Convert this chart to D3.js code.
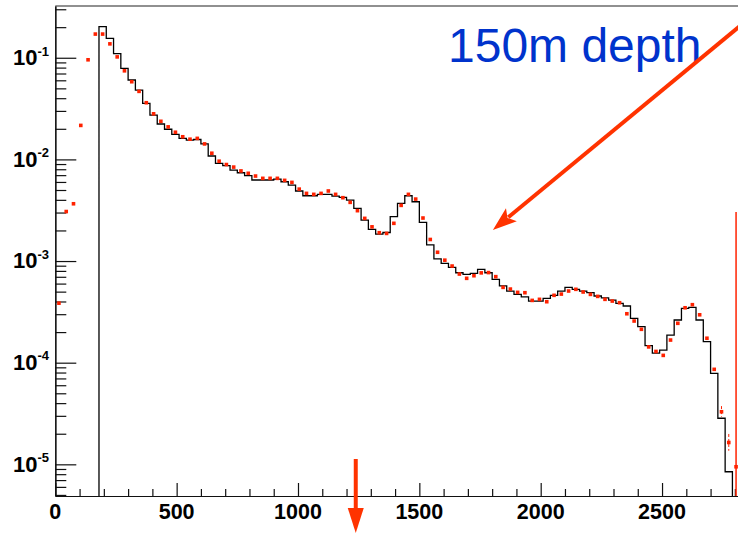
<!DOCTYPE html>
<html><head><meta charset="utf-8">
<script src="https://cdn.jsdelivr.net/npm/d3@7"></script>
<style>
html,body{margin:0;padding:0;background:#fff;}
svg{display:block;}
</style></head>
<body>
<svg id="chart" width="738" height="533"></svg>
<script>
// ---- data ----
const histEdges = [180,210,240,270,300,330,360,390,420,450,480,510,540,570,600,630,660,690,720,750,780,810,840,870,900,930,960,990,1020,1050,1080,1110,1140,1170,1200,1230,1260,1290,1320,1350,1380,1410,1440,1470,1500,1530,1560,1590,1620,1650,1680,1710,1740,1770,1800,1830,1860,1890,1920,1950,1980,2010,2040,2070,2100,2130,2160,2190,2220,2250,2280,2310,2340,2370,2400,2430,2460,2490,2520,2550,2580,2610,2640,2670,2700,2730,2760,2790];
const histValues = [0.202,0.155,0.110,0.0787,0.0604,0.0481,0.0356,0.0273,0.0223,0.0198,0.0176,0.0161,0.0155,0.0157,0.0142,0.0108,0.00914,0.00867,0.00785,0.00739,0.00691,0.00627,0.00627,0.00627,0.00641,0.00603,0.00559,0.00489,0.00439,0.00439,0.00453,0.00453,0.00435,0.00423,0.00398,0.00330,0.00253,0.00205,0.00184,0.00191,0.00273,0.00370,0.00439,0.00383,0.00240,0.00144,0.00105,0.000949,0.000867,0.000767,0.000740,0.000757,0.000828,0.000767,0.000661,0.000571,0.000507,0.000470,0.000445,0.000404,0.000404,0.000430,0.000460,0.000507,0.000551,0.000527,0.000507,0.000488,0.000453,0.000435,0.000413,0.000384,0.000361,0.000273,0.000226,0.000147,0.000124,0.000133,0.000187,0.000263,0.000343,0.000350,0.000263,0.000161,0.0000785,0.0000284,0.00000845];

const pointEnergy = [15,45,75,105,135,165,195,225,255,285,315,345,375,405,435,465,495,525,555,585,615,645,675,705,735,765,795,825,855,885,915,945,975,1005,1035,1065,1095,1125,1155,1185,1215,1245,1275,1305,1335,1365,1395,1425,1455,1485,1515,1545,1575,1605,1635,1665,1695,1725,1755,1785,1815,1845,1875,1905,1935,1965,1995,2025,2055,2085,2115,2145,2175,2205,2235,2265,2295,2325,2355,2385,2415,2445,2475,2505,2535,2565,2595,2625,2655,2685,2715,2745,2775,2805];
const pointValues = [3.85e-4,3.07e-3,3.66e-3,0.0216,0.0955,0.171,0.171,0.137,0.102,0.0744,0.0581,0.0467,0.0361,0.0281,0.0237,0.0209,0.0185,0.0167,0.0158,0.0161,0.0142,0.0115,0.0096,0.0089,0.0084,0.0077,0.0073,0.00686,0.00651,0.00651,0.00651,0.00622,0.00594,0.00510,0.00463,0.00453,0.00463,0.00489,0.00453,0.00420,0.00378,0.00313,0.00263,0.00217,0.00190,0.00187,0.00235,0.00353,0.00453,0.00407,0.00265,0.00163,0.00122,0.00102,0.000893,0.000745,0.000676,0.000717,0.000765,0.000770,0.000702,0.000551,0.000530,0.000492,0.000488,0.000410,0.000420,0.000398,0.000460,0.000473,0.000507,0.000527,0.000496,0.000470,0.000449,0.000420,0.000404,0.000389,0.000303,0.000257,0.000213,0.000143,0.000129,0.000118,0.000167,0.000244,0.000347,0.000372,0.000296,0.000174,8.6e-5,3.29e-5,1.64e-5,9.46e-6];

const errEnergy = [2745,2775,2805];
const errLow = [2.94e-5,1.36e-5,0];
const errHigh = [3.74e-5,1.99e-5,3.03e-3];

const xMajorTicks = [0,500,1000,1500,2000,2500];
const xTickLabels = ["0","500","1000","1500","2000","2500"];
const yExponents = [-1,-2,-3,-4,-5];
const yTickLabels = ["-1","-2","-3","-4","-5"];

const titleText = "150m depth";
// annotation arrows (data coordinates)
const diagArrow = {from:[2821,0.205], to:[1803,0.00202]};
const downArrow = {energy:1238};

// ---- scales ----
const svg = d3.select("#chart");
const x = d3.scaleLinear().domain([0,2820]).range([55.3,739.7]);
const y = d3.scaleLog().domain([4.88e-6,0.323]).range([496,6]);
const yB = 496, yT = 6;
const RED = "#ff2200", ARROW = "#ff3300";

// minor tick values
const xMinor = d3.range(0,2900,100).filter(v=>v%500!==0);
const yMinor = [];
for (let e=-6;e<=0;e++) for (let m=2;m<=9;m++){const v=m*Math.pow(10,e); if(v>=y.domain()[0]&&v<=y.domain()[1]) yMinor.push(v);}
const yMajor = yExponents.map(e=>Math.pow(10,e));

// frame top
svg.append("line").attr("x1",x.range()[0]).attr("x2",x.range()[1]).attr("y1",yT).attr("y2",yT)
  .attr("stroke","#222").attr("stroke-width",1.2);

// axes
function styleAxis(g){g.selectAll("text").remove();g.selectAll("path,line").attr("stroke","#111").attr("stroke-width",1.2);}
svg.append("g").attr("transform",`translate(0,${yB})`)
  .call(d3.axisBottom(x).tickValues(xMinor).tickSize(-7).tickSizeOuter(0)).call(styleAxis);
svg.append("g").attr("transform",`translate(0,${yB})`)
  .call(d3.axisBottom(x).tickValues(xMajorTicks).tickSize(-13).tickSizeOuter(0)).call(styleAxis);
svg.append("g").attr("transform",`translate(${x.range()[0]},0)`)
  .call(d3.axisLeft(y).tickValues(yMinor).tickSize(-11).tickSizeOuter(0)).call(styleAxis);
svg.append("g").attr("transform",`translate(${x.range()[0]},0)`)
  .call(d3.axisLeft(y).tickValues(yMajor).tickSize(-21).tickSizeOuter(0)).call(styleAxis);

// x labels
svg.append("g").selectAll("text").data(xMajorTicks).join("text")
  .attr("x",d=>x(d)).attr("y",519.3).attr("text-anchor","middle")
  .attr("font-family","Liberation Sans, Arial, sans-serif").attr("font-weight","bold").attr("font-size",21.5)
  .attr("fill","#000").text((d,i)=>xTickLabels[i]);

// y labels
const yl = svg.append("g").selectAll("text").data(yMajor).join("text")
  .attr("x",49).attr("y",d=>y(d)+7.3).attr("text-anchor","end")
  .attr("font-family","Liberation Sans, Arial, sans-serif").attr("font-weight","bold").attr("fill","#000");
yl.append("tspan").attr("font-size",22).text("10");
yl.append("tspan").attr("font-size",13).attr("dy",-9.5).text((d,i)=>yTickLabels[i]);

// histogram
let p = `M${x(histEdges[0])},${yB}`;
histValues.forEach((v,i)=>{ p += `V${y(v)}H${x(histEdges[i+1])}`; });
p += `V${yB}`;
svg.append("path").attr("d",p).attr("fill","none").attr("stroke","#000").attr("stroke-width",1.3);

// error bars
errEnergy.forEach((e,i)=>{
  const lo = Math.max(errLow[i], y.domain()[0]);
  svg.append("line").attr("x1",x(e)).attr("x2",x(e)).attr("y1",y(errHigh[i])).attr("y2",y(lo))
    .attr("stroke",RED).attr("stroke-width",i===2?1.5:1).attr("stroke-dasharray",i===2?null:"3,2");
});

// points
svg.append("g").selectAll("rect").data(pointValues).join("rect")
  .attr("x",(d,i)=>x(pointEnergy[i])-1.8).attr("y",d=>y(d)-1.8)
  .attr("width",3.6).attr("height",3.6).attr("fill",RED);

// title
svg.append("text").attr("x",448).attr("y",62).attr("font-family","Liberation Sans, Arial, sans-serif")
  .attr("font-size",48).attr("fill","#0033cc").text(titleText);

// diagonal arrow
{
  const x1=x(diagArrow.from[0]), y1=y(diagArrow.from[1]), x2=x(diagArrow.to[0]), y2=y(diagArrow.to[1]);
  const dx=x1-x2, dy=y1-y2, L=Math.hypot(dx,dy), ux=dx/L, uy=dy/L;
  const hl=24, hw=8.5;
  const bx=x2+ux*hl, by=y2+uy*hl;
  svg.append("line").attr("x1",x1).attr("y1",y1).attr("x2",x2+ux*(hl-4)).attr("y2",y2+uy*(hl-4))
    .attr("stroke",ARROW).attr("stroke-width",4);
  svg.append("path").attr("d",`M${x2},${y2}L${bx-uy*hw},${by+ux*hw}L${x2+ux*(hl-5)},${y2+uy*(hl-5)}L${bx+uy*hw},${by-ux*hw}Z`)
    .attr("fill",ARROW);
}
// down arrow
{
  const ax = x(downArrow.energy);
  svg.append("line").attr("x1",ax).attr("x2",ax).attr("y1",459).attr("y2",510).attr("stroke",ARROW).attr("stroke-width",4);
  svg.append("path").attr("d",`M${ax-8},508L${ax+8},508L${ax},533Z`).attr("fill",ARROW);
}
</script>
</body></html>
